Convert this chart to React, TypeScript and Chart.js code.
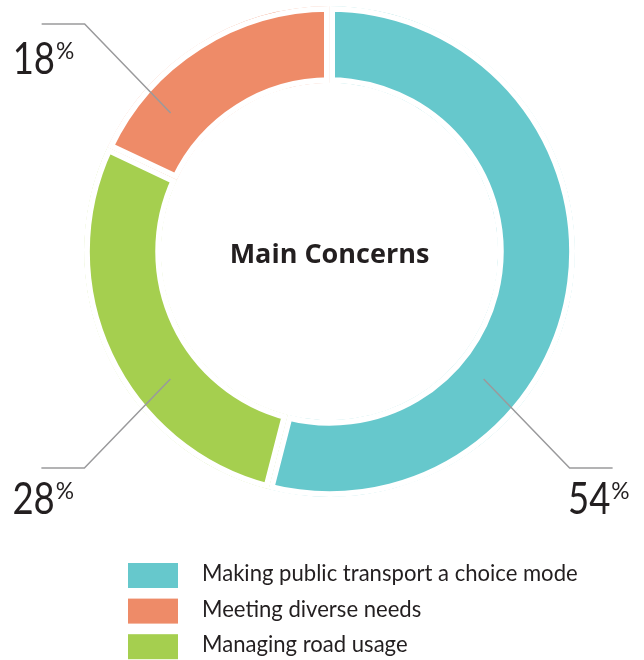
import React, { useEffect, useRef } from "react";
import { Chart, registerables } from "chart.js";

Chart.register(...registerables);

// ---- data ----
const categories = [
  "Making public transport a choice mode",
  "Meeting diverse needs",
  "Managing road usage",
];
const shares = [54, 18, 28];
const colors = ["#66c8cc", "#ee8b68", "#a5cf4f"];
// order of the segments around the ring, clockwise from 12 o'clock
const ringOrder = [0, 2, 1];
// where each leader line touches its segment (deg clockwise from top, depth 0..1 across ring)
const leaderAngles = [129.6, 311.1, 231.3];
const leaderDepth = [0.41, 0.55, 0.46];
const centerTitle = "Main Concerns";

const FONT = "Lato, 'Open Sans', sans-serif";
const TEXT = "#231f20";

const overlayPlugin = {
  id: "overlay",
  afterDraw(chart: any) {
    const ctx = chart.ctx as CanvasRenderingContext2D;
    const meta = chart.getDatasetMeta(0);
    const arc0 = meta.data[0] as any;
    const cx = arc0.x;
    const cy = arc0.y;
    const rIn = arc0.innerRadius;
    const rOut = arc0.outerRadius;

    ctx.save();
    // center title
    ctx.fillStyle = TEXT;
    ctx.font = `bold 27px 'Open Sans', sans-serif`;
    ctx.textAlign = "center";
    ctx.textBaseline = "alphabetic";
    ctx.fillText(centerTitle, cx, cy + 11);

    // leader lines + percentage labels
    ringOrder.forEach((catIdx) => {
      const deg = leaderAngles[catIdx];
      const a = (deg * Math.PI) / 180;
      const r = rIn + leaderDepth[catIdx] * (rOut - rIn);
      const ax = cx + r * Math.sin(a);
      const ay = cy - r * Math.cos(a);
      const sx = Math.sin(a) >= 0 ? 1 : -1;
      const sy = -Math.cos(a) >= 0 ? 1 : -1;
      const ex = ax + sx * 86;
      const ey = ay + sy * 89;
      const hx = ex + sx * 43;
      ctx.strokeStyle = "#9a9a9c";
      ctx.lineWidth = 1.5;
      ctx.beginPath();
      ctx.moveTo(ax, ay);
      ctx.lineTo(ex, ey);
      ctx.lineTo(hx, ey);
      ctx.stroke();

      const num = String(shares[catIdx]);
      const condense = 0.83;
      ctx.fillStyle = TEXT;
      ctx.font = `400 44px ${FONT}`;
      const nw = ctx.measureText(num).width * condense;
      ctx.font = `400 24px ${FONT}`;
      const pw = ctx.measureText("%").width * 0.95;
      const total = nw + 1 + pw;
      const baseY = ey + (sy < 0 ? 50 : 46);
      const left = sx < 0 ? hx - 29 : hx + 17 - total;
      ctx.textAlign = "left";
      ctx.save();
      ctx.translate(left, baseY);
      ctx.save();
      ctx.scale(condense, 1);
      ctx.font = `400 44px ${FONT}`;
      ctx.fillText(num, 0, 0);
      ctx.restore();
      ctx.scale(0.95, 1);
      ctx.font = `400 24px ${FONT}`;
      ctx.fillText("%", (nw + 1) / 0.95, -15);
      ctx.restore();
    });

    // legend
    categories.forEach((label, i) => {
      const top = 563 + i * 35.6;
      ctx.fillStyle = colors[i];
      ctx.fillRect(128, top, 50, 25);
      ctx.fillStyle = TEXT;
      ctx.save();
      ctx.translate(202, top + 18);
      ctx.scale(0.96, 1);
      ctx.font = `400 23px ${FONT}`;
      ctx.textAlign = "left";
      ctx.fillText(label, 0, 0);
      ctx.restore();
    });
    ctx.restore();
  },
};

export default function App() {
  const ref = useRef<HTMLCanvasElement | null>(null);
  useEffect(() => {
    if (!ref.current) return;
    const chart = new Chart(ref.current, {
      type: "doughnut",
      data: {
        labels: ringOrder.map((i) => categories[i]),
        datasets: [
          {
            data: ringOrder.map((i) => shares[i]),
            backgroundColor: ringOrder.map((i) => colors[i]),
            borderColor: "#ffffff",
            borderWidth: 5.5,
            borderAlign: "inner",
            borderJoinStyle: "miter",
            hoverOffset: 0,
          } as any,
        ],
      },
      options: {
        responsive: false,
        animation: false,
        cutout: "68.6%",
        layout: { padding: { left: 84, right: 69, top: 6, bottom: 163 } },
        plugins: {
          legend: { display: false },
          tooltip: { enabled: false },
        },
        events: [],
      },
      plugins: [overlayPlugin],
    });
    return () => chart.destroy();
  }, []);
  return (
    <div style={{ position: "fixed", left: 0, top: 0, width: 644, height: 660, background: "#fff" }}>
      <canvas ref={ref} width={644} height={660} style={{ width: 644, height: 660, display: "block" }} />
    </div>
  );
}
